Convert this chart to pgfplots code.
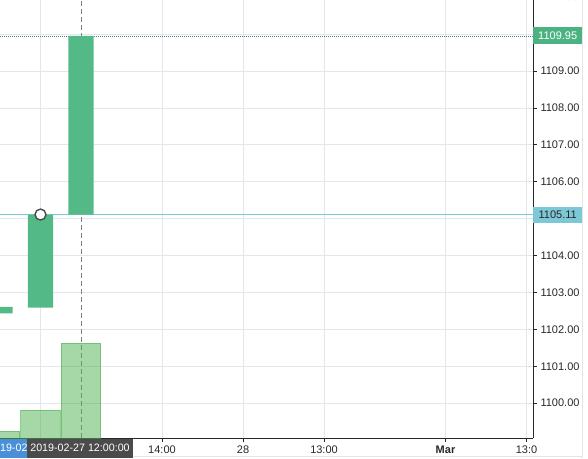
\documentclass[border=0pt]{standalone}
\usepackage{pgfplots}
\pgfplotsset{compat=1.18}
\usepackage{fontspec}
\setmainfont{Liberation Sans}

\definecolor{upc}{RGB}{83,185,135}
\definecolor{volc}{RGB}{76,175,80}
\definecolor{gridc}{RGB}{226,231,236}
\definecolor{axc}{RGB}{40,40,40}
\definecolor{pricec}{RGB}{125,200,214}
\definecolor{hic}{RGB}{77,178,130}
\definecolor{crossc}{RGB}{75,75,75}
\definecolor{prevc}{RGB}{74,144,217}
\definecolor{dotc}{RGB}{90,120,120}

% one hour per x unit, 11:00 at x=1
\pgfplotsset{
  chartbase/.style={
    at={(0,20pt)}, anchor=south west,
    width=533pt, height=438pt, scale only axis,
    xmin=0, xmax=13.16,
  },
  pricerange/.style={ymin=1099.055, ymax=1110.924},
  hidden/.style={chartbase, pricerange, hide axis},
}

\begin{document}
\begin{tikzpicture}
\useasboundingbox (0,0) rectangle (588pt,458pt);

% price axis: grid, ticks, reference lines
\begin{axis}[chartbase, pricerange,
  axis x line=bottom, axis y line=right,
  axis line style={-, axc, line width=1pt},
  tick align=outside, major tick length=4pt,
  tick style={axc, line width=0.8pt},
  xtick={1,4,6,8,11,13},
  xticklabels={,14:00,28,13:00,\textbf{Mar},13:0},
  extra x ticks={2}, extra x tick labels={},
  extra x tick style={grid=none},
  ytick={1100,1101,...,1110},
  % 1105 and 1110 sit under the price boxes
  yticklabels={1100.00,1101.00,1102.00,1103.00,1104.00,,1106.00,1107.00,1108.00,1109.00,},
  grid=major, grid style={gridc, line width=0.8pt},
  ticklabel style={font=\fontsize{11}{13}\selectfont, text=axc},
]
\addplot[gray, line width=0.8pt, dash pattern=on 5pt off 3pt]
  coordinates {(2,1099.055) (2,1110.924)};
\addplot[pricec, line width=0.9pt] coordinates {(0,1105.11) (13.16,1105.11)};
\addplot[dotc, line width=0.8pt, dash pattern=on 1pt off 1pt]
  coordinates {(0,1109.95) (13.16,1109.95)};
\coordinate (hi) at (axis cs:13.16,1109.95);
\coordinate (px) at (axis cs:13.16,1105.11);
\coordinate (top) at (axis cs:13.16,1111);
\coordinate (ch) at (axis cs:2,1099.055);
\end{axis}

% volume
\begin{axis}[chartbase, hide axis, ymin=0, ymax=438,
  ybar, bar width=0.98]
\addplot[draw=volc, draw opacity=0.55, fill=volc, fill opacity=0.5, line width=0.8pt]
  coordinates {(0,7) (1,28) (2,95)};
\end{axis}

% candles: open, then body height
\begin{axis}[hidden, ybar stacked, bar width=0.62]
\addplot[draw=none, fill=none] coordinates {(0,1102.43) (1,1102.59) (2,1105.11)};
\addplot[draw=none, fill=upc] coordinates {(0,0.18) (1,2.52) (2,4.84)};
\end{axis}

% last-price marker
\begin{axis}[hidden, clip=false]
\addplot[only marks, mark=*, mark size=5.5pt,
  mark options={fill=white, draw=crossc, line width=1.4pt}]
  coordinates {(1,1105.11)};
\end{axis}

\draw[gray!20, line width=0.8pt] (582pt,0) -- (582pt,458pt);
\draw[gray!20, line width=0.8pt] (0,1.5pt) -- (582pt,1.5pt);

\node[fill=hic, text=white, anchor=west, minimum width=49pt, minimum height=17pt,
  inner sep=0pt, font=\fontsize{11}{13}\selectfont] at (hi) {1109.95};
\node[fill=pricec, text=axc, anchor=west, minimum width=49pt, minimum height=16pt,
  inner sep=0pt, font=\fontsize{11}{13}\selectfont] at (px) {1105.11};
\node[text=axc, anchor=west, xshift=4pt, font=\fontsize{11}{13}\selectfont]
  at (top) {1111.00};
\node[fill=prevc, text=white, anchor=north west, minimum height=19pt, inner sep=0pt,
  font=\fontsize{10.7}{12}\selectfont]
  at ([xshift=-93pt,yshift=-0.5pt]ch) {2019-02};
\node[fill=crossc, text=white, anchor=north, minimum width=106pt, minimum height=19pt,
  inner sep=0pt, font=\fontsize{10.7}{12}\selectfont]
  at ([xshift=-1pt,yshift=-0.5pt]ch) {2019-02-27 12:00:00};
\end{tikzpicture}
\end{document}
